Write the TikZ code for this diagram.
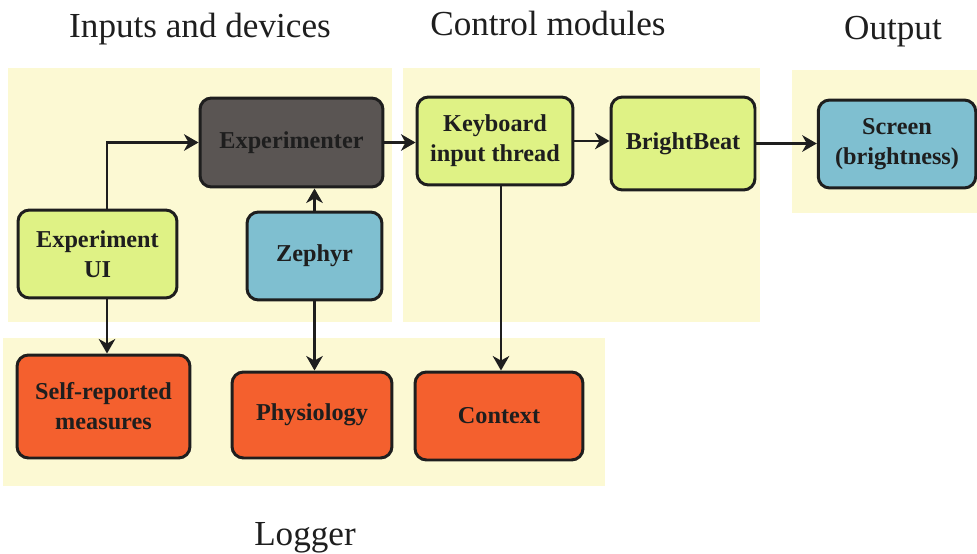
\documentclass[tikz,border=0pt]{standalone}
\usepackage{fontspec}
\setmainfont{Liberation Serif}
\usepackage{tikz}
\usepackage{xcolor}
\usetikzlibrary{arrows.meta,positioning,calc}
\definecolor{ink}{HTML}{1E1E1E}
\definecolor{zone}{HTML}{FCF9D3}
\definecolor{lime}{HTML}{DFF285}
\definecolor{slate}{HTML}{5A5553}
\definecolor{sky}{HTML}{7FBFD0}
\definecolor{flame}{HTML}{F4602E}
\tikzset{
  box/.style={draw=ink, rounded corners=6.5pt, line width=1.7pt, align=center,
              inner sep=2pt, text=ink, font=\fontsize{13.8}{17}\selectfont\bfseries},
  arrow/.style={-{Stealth[length=2.9mm,width=3.3mm,inset=0.9mm]}, line width=1.7pt, draw=ink},
  heading/.style={anchor=base, text=ink, font=\fontsize{20}{24}\selectfont}
}

\begin{document}
\begin{tikzpicture}[x=0.02cm,y=-0.02cm]
        \useasboundingbox (0,0) rectangle (977,554);
        \fill[zone] (8,68) rectangle (392,322);
        \fill[zone] (403,68) rectangle (760,322);
        \fill[zone] (792,70) rectangle (977,213);
        \fill[zone] (3,338) rectangle (605,486);

        \node[heading] (inhead) at (200,38) {Inputs and devices};
        \node[heading] (ctrlhead) at (548,36) {Control modules};
        \node[heading] (outhead) at (893,40) {Output};
        \node[heading] (loghead) at (305,545) {Logger};

        \node[box,fill=slate,minimum width=3.66cm,minimum height=1.78cm] (expr) at (291.5,142.5) {Experimenter};
        \node[box,fill=lime,minimum width=3.12cm,minimum height=1.76cm] (kbd) at (495,141) {Keyboard\\input thread};
        \node[box,fill=lime,minimum width=2.88cm,minimum height=1.86cm] (bright) at (683,143.5) {BrightBeat};
        \node[box,fill=sky,minimum width=3.15cm,minimum height=1.76cm] (screen) at (897,144) {Screen\\(brightness)};
        \node[box,fill=lime,minimum width=3.18cm,minimum height=1.76cm] (expui) at (97.5,254) {Experiment\\UI};
        \node[box,fill=sky,minimum width=2.7cm,minimum height=1.76cm] (zephyr) at (314.5,256) {Zephyr};
        \node[box,fill=flame,minimum width=3.46cm,minimum height=2.06cm] (selfrep) at (103.5,406.5) {Self-reported\\measures};
        \node[box,fill=flame,minimum width=3.2cm,minimum height=1.72cm] (physio) at (312,415) {Physiology};
        \node[box,fill=flame,minimum width=3.36cm,minimum height=1.76cm] (context) at (499,416) {Context};

        \draw[arrow] ([xshift=0.19cm]expui.north) |- (expr.west);
        \draw[arrow] (zephyr.north) -- (zephyr.north |- expr.south);
        \draw[arrow] (expr.east) -- (expr.east -| kbd.west);
        \draw[arrow] (kbd.east) -- (kbd.east -| bright.west);
        \draw[arrow] (bright.east) -- (bright.east -| screen.west);
        \draw[arrow] ([xshift=0.19cm]expui.south) -- ([xshift=0.19cm]expui.south |- selfrep.north);
        \draw[arrow] (zephyr.south) -- (zephyr.south |- physio.north);
        \draw[arrow] ([xshift=0.12cm]kbd.south) -- ([xshift=0.12cm]kbd.south |- context.north);
      \end{tikzpicture}
\end{document}
